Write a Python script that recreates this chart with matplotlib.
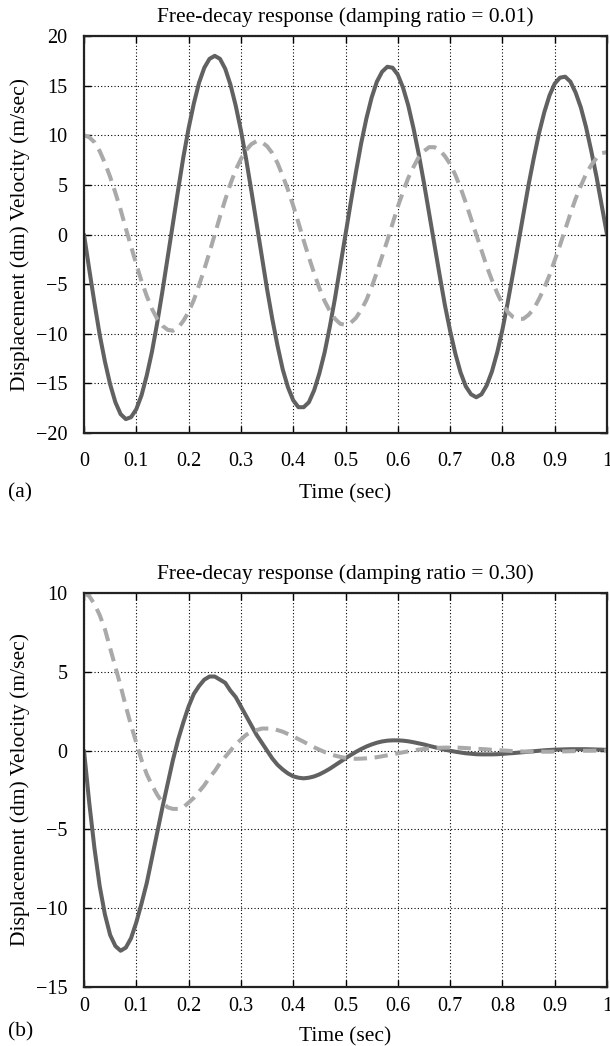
import numpy as np
import matplotlib
matplotlib.use("Agg")
import matplotlib.pyplot as plt

dt = 0.01

# (a) damping ratio 0.01
vel_a = [0, -3.5, -6.9, -10.1, -12.8, -15.1, -16.9, -18.1, -18.6, -18.4,
         -17.6, -16.2, -14.2, -11.8, -8.9, -5.7, -2.3, 1.1, 4.5, 7.8,
         10.7, 13.2, 15.3, 16.8, 17.7, 18.0, 17.7, 16.7, 15.1, 13.0,
         10.5, 7.6, 4.4, 1.1, -2.2, -5.5, -8.5, -11.2, -13.6, -15.4,
         -16.7, -17.4, -17.4, -16.9, -15.7, -14.0, -11.9, -9.3, -6.4, -3.2,
         0.0, 3.2, 6.3, 9.2, 11.7, 13.8, 15.4, 16.4, 16.9, 16.8,
         16.1, 14.8, 13.0, 10.7, 8.1, 5.2, 2.1, -1.0, -4.1, -7.1,
         -9.7, -12.0, -13.9, -15.3, -16.1, -16.4, -16.1, -15.2, -13.8, -11.9,
         -9.6, -6.9, -4.0, -1.0, 2.0, 5.0, 7.7, 10.2, 12.3, 14.0,
         15.2, 15.8, 15.9, 15.4, 14.3, 12.8, 10.8, 8.4, 5.8, 2.9,
         0.0]
disp_a = [10.0, 9.8, 9.3, 8.4, 7.2, 5.8, 4.2, 2.5, 0.6, -1.2,
          -3.0, -4.7, -6.2, -7.5, -8.5, -9.2, -9.6, -9.7, -9.4, -8.7,
          -7.8, -6.6, -5.1, -3.5, -1.8, 0.0, 1.8, 3.5, 5.1, 6.5,
          7.6, 8.5, 9.1, 9.4, 9.3, 8.9, 8.2, 7.2, 5.9, 4.5,
          2.9, 1.2, -0.6, -2.3, -3.9, -5.4, -6.7, -7.7, -8.5, -9.0,
          -9.1, -8.9, -8.4, -7.6, -6.6, -5.3, -3.8, -2.2, -0.6, 1.1,
          2.8, 4.3, 5.7, 6.8, 7.8, 8.4, 8.8, 8.8, 8.5, 7.9,
          7.1, 6.0, 4.7, 3.2, 1.6, 0.0, -1.6, -3.2, -4.6, -5.9,
          -7.0, -7.8, -8.3, -8.5, -8.5, -8.1, -7.5, -6.5, -5.4, -4.1,
          -2.6, -1.1, 0.5, 2.1, 3.6, 4.9, 6.1, 7.0, 7.7, 8.2,
          8.3]

# (b) damping ratio 0.30
vel_b = [0.0, -3.3, -6.2, -8.6, -10.4, -11.7, -12.4, -12.7, -12.5, -11.9,
         -10.9, -9.7, -8.4, -6.8, -5.2, -3.6, -2.1, -0.6, 0.7, 1.8,
         2.8, 3.6, 4.1, 4.5, 4.7, 4.7, 4.5, 4.3, 3.8, 3.4,
         2.8, 2.2, 1.6, 1.0, 0.5, 0.0, -0.5, -0.9, -1.2, -1.45,
         -1.63, -1.72, -1.76, -1.72, -1.64, -1.51, -1.34, -1.15, -0.93, -0.71,
         -0.49, -0.28, -0.08, 0.10, 0.26, 0.39, 0.50, 0.58, 0.63, 0.65,
         0.65, 0.63, 0.59, 0.53, 0.46, 0.39, 0.30, 0.22, 0.14, 0.06,
         -0.01, -0.07, -0.12, -0.17, -0.20, -0.23, -0.24, -0.24, -0.24, -0.23,
         -0.21, -0.18, -0.16, -0.13, -0.10, -0.07, -0.04, -0.01, 0.02, 0.04,
         0.06, 0.07, 0.08, 0.09, 0.09, 0.09, 0.09, 0.08, 0.07, 0.06,
         0.05]
disp_b = [10.0, 9.8, 9.3, 8.6, 7.7, 6.5, 5.3, 4.1, 2.8, 1.6,
          0.5, -0.6, -1.5, -2.2, -2.8, -3.3, -3.6, -3.7, -3.7, -3.6,
          -3.3, -3.0, -2.6, -2.2, -1.7, -1.3, -0.8, -0.4, 0.0, 0.4,
          0.7, 1.0, 1.2, 1.3, 1.4, 1.4, 1.4, 1.3, 1.2, 1.05,
          0.90, 0.73, 0.56, 0.38, 0.21, 0.06, -0.09, -0.21, -0.32, -0.40,
          -0.46, -0.50, -0.52, -0.51, -0.49, -0.46, -0.42, -0.36, -0.30, -0.24,
          -0.17, -0.11, -0.05, 0.01, 0.06, 0.10, 0.13, 0.16, 0.18, 0.19,
          0.19, 0.19, 0.18, 0.16, 0.14, 0.12, 0.10, 0.08, 0.05, 0.03,
          0.01, -0.01, -0.03, -0.04, -0.06, -0.06, -0.07, -0.07, -0.07, -0.07,
          -0.06, -0.06, -0.05, -0.04, -0.03, -0.02, -0.01, -0.01, 0.00, 0.01,
          0.01]

xticks = [0, 0.1, 0.2, 0.3, 0.4, 0.5, 0.6, 0.7, 0.8, 0.9, 1]
xtick_labels = ["0", "0.1", "0.2", "0.3", "0.4", "0.5", "0.6", "0.7", "0.8", "0.9", "1"]
yticks_a = [-20, -15, -10, -5, 0, 5, 10, 15, 20]
yticks_b = [-15, -10, -5, 0, 5, 10]

titles = ["Free-decay response (damping ratio = 0.01)",
          "Free-decay response (damping ratio = 0.30)"]
panel_tags = ["(a)", "(b)"]
ylabel = "Displacement (dm) Velocity (m/sec)"
xlabel = "Time (sec)"

plt.rcParams["font.family"] = ["Liberation Serif", "DejaVu Serif"]
plt.rcParams["font.size"] = 14

solid_col = "#616161"
dash_col = "#a9a9a9"

t = np.round(np.arange(len(vel_a)) * dt, 2)

fig = plt.figure(figsize=(6.10, 10.46), dpi=100)
W, H = 610.0, 1046.0
ax_a = fig.add_axes([84 / W, 1 - 433 / H, 523 / W, 397 / H])
ax_b = fig.add_axes([84 / W, 1 - 987 / H, 523 / W, 394 / H])

# axes, data, ticks, title, tag, tag y (px), x tick pad, xlabel pad
panels = [(ax_a, vel_a, disp_a, yticks_a, titles[0], panel_tags[0], 493, 13.5, 10),
          (ax_b, vel_b, disp_b, yticks_b, titles[1], panel_tags[1], 1032, 7.0, 8)]

for ax, vel, disp, yt, title, tag, tag_y, xpad, lpad in panels:
    ax.plot(t, vel, color=solid_col, lw=2.9, solid_capstyle="round")
    ax.plot(t, disp, color=dash_col, lw=2.9, dashes=(3.3, 1.9),
            dash_capstyle="butt")
    ax.set_xlim(0, 1)
    ax.set_ylim(yt[0], yt[-1])
    ax.set_xticks(xticks)
    ax.set_xticklabels(xtick_labels)
    ax.set_yticks(yt)
    ax.grid(True, color="black", linestyle=(0, (1, 2)), linewidth=0.8)
    ax.tick_params(direction="in", top=True, right=True, length=5, width=1,
                   labelsize=14.5)
    ax.tick_params(axis="x", pad=xpad)
    ax.tick_params(axis="y", pad=12)
    for sp in ax.spines.values():
        sp.set_linewidth(1.6)
        sp.set_color("#222222")
    ax.set_title(title, fontsize=15.5, pad=10)
    ax.set_xlabel(xlabel, fontsize=15.5, labelpad=lpad)
    ax.set_ylabel(ylabel, fontsize=15.5, va="center")
    ax.yaxis.set_label_coords(-0.122, 0.5)
    fig.text(8 / W, 1 - tag_y / H, tag, fontsize=15.5, va="center", ha="left")

fig.savefig("out.png", dpi=100)
